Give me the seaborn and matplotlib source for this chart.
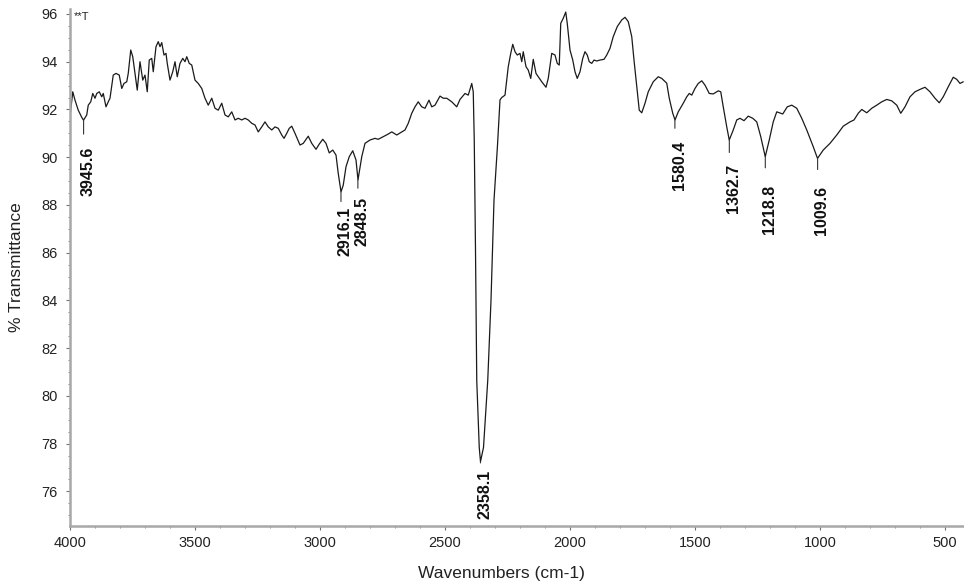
import matplotlib
matplotlib.use("Agg")
import matplotlib.pyplot as plt
from matplotlib.ticker import MultipleLocator
import seaborn as sns
import numpy as np
import pandas as pd

# ---- data ----
wavenumber = [
    4000, 3989, 3980, 3967, 3953, 3946, 3933, 3927, 3917, 3909, 3900, 3893, 3883, 3873, 3867,
    3856, 3847, 3840, 3827, 3816, 3803, 3793, 3784, 3773, 3767, 3757, 3749, 3740, 3731, 3720,
    3709, 3700, 3691, 3683, 3673, 3667, 3656, 3647, 3640, 3633, 3624, 3616, 3611, 3600, 3589,
    3580, 3571, 3560, 3549, 3540, 3533, 3523, 3513, 3500, 3487, 3473, 3460, 3447, 3433, 3420,
    3407, 3393, 3380, 3367, 3353, 3340, 3327, 3313, 3300, 3287, 3273, 3260, 3247, 3233, 3220,
    3207, 3193, 3180, 3167, 3153, 3144, 3133, 3123, 3113, 3100, 3080, 3067, 3047, 3033, 3016,
    3003, 2989, 2976, 2963, 2949, 2936, 2927, 2916, 2907, 2896, 2883, 2869, 2856, 2848, 2833,
    2820, 2800, 2780, 2767, 2747, 2727, 2713, 2693, 2673, 2660, 2647, 2633, 2620, 2607, 2593,
    2580, 2564, 2553, 2540, 2520, 2507, 2493, 2473, 2453, 2440, 2429, 2420, 2407, 2393, 2387,
    2383, 2378, 2373, 2363, 2358, 2346, 2329, 2316, 2304, 2290, 2280, 2273, 2260, 2247, 2237,
    2229, 2220, 2211, 2200, 2193, 2187, 2176, 2167, 2157, 2147, 2136, 2127, 2113, 2096, 2087,
    2073, 2060, 2051, 2043, 2037, 2027, 2017, 2011, 2000, 1989, 1980, 1971, 1960, 1949, 1940,
    1931, 1923, 1913, 1904, 1893, 1880, 1864, 1853, 1840, 1827, 1811, 1793, 1780, 1767, 1753,
    1744, 1733, 1723, 1713, 1700, 1687, 1667, 1647, 1633, 1613, 1603, 1589, 1580, 1567, 1547,
    1533, 1523, 1513, 1500, 1487, 1473, 1460, 1443, 1427, 1407, 1397, 1387, 1373, 1363, 1347,
    1333, 1320, 1304, 1287, 1269, 1253, 1237, 1219, 1203, 1187, 1173, 1149, 1131, 1113, 1093,
    1073, 1053, 1027, 1010, 987, 960, 933, 907, 880, 864, 847, 833, 813, 793, 773,
    753, 733, 713, 693, 677, 660, 640, 620, 600, 580, 560, 540, 523, 507, 487,
    467, 453, 440, 427,
]
transmittance = [
    91.70, 92.74, 92.39, 91.97, 91.67, 91.55, 91.77, 92.18, 92.32, 92.67, 92.47, 92.67, 92.74, 92.53, 92.67,
    92.11, 92.32, 92.47, 93.44, 93.51, 93.44, 92.88, 93.09, 93.16, 93.51, 94.49, 94.21, 93.51, 92.81, 94.00,
    93.23, 93.44, 92.74, 94.07, 94.14, 93.58, 94.63, 94.84, 94.63, 94.80, 94.28, 94.35, 93.93, 93.23, 93.58,
    94.00, 93.37, 93.93, 94.14, 94.00, 94.21, 93.93, 93.86, 93.23, 93.09, 92.88, 92.47, 92.18, 92.47, 92.05,
    91.97, 92.26, 91.77, 91.69, 91.90, 91.56, 91.63, 91.56, 91.63, 91.56, 91.42, 91.35, 91.06, 91.27, 91.48,
    91.27, 91.14, 91.27, 91.21, 90.93, 90.79, 91.00, 91.21, 91.30, 91.00, 90.51, 90.58, 90.88, 90.58, 90.33,
    90.55, 90.75, 90.58, 90.18, 90.30, 90.09, 89.32, 88.55, 88.83, 89.60, 90.02, 90.27, 89.88, 89.05, 90.02,
    90.58, 90.72, 90.79, 90.75, 90.86, 90.97, 91.06, 90.93, 91.06, 91.14, 91.42, 91.84, 92.11, 92.32, 92.11,
    92.05, 92.39, 92.11, 92.18, 92.56, 92.47, 92.47, 92.32, 92.11, 92.42, 92.56, 92.67, 92.60, 93.09, 92.74,
    90.72, 86.10, 80.65, 77.84, 77.25, 77.84, 80.65, 84.01, 88.20, 90.50, 92.40, 92.50, 92.60, 93.79, 94.35,
    94.73, 94.42, 94.28, 94.35, 94.00, 94.42, 93.79, 93.65, 93.30, 94.10, 93.51, 93.37, 93.16, 92.93, 93.30,
    94.35, 94.28, 93.93, 93.86, 95.61, 95.82, 96.08, 95.61, 94.49, 94.07, 93.58, 93.30, 93.58, 94.14, 94.42,
    94.28, 94.00, 93.93, 94.07, 94.03, 94.07, 94.10, 94.28, 94.56, 95.05, 95.47, 95.75, 95.86, 95.68, 95.05,
    94.07, 92.95, 91.97, 91.86, 92.26, 92.74, 93.16, 93.37, 93.30, 93.10, 92.47, 91.84, 91.56, 91.90, 92.26,
    92.53, 92.67, 92.60, 92.88, 93.09, 93.20, 93.02, 92.67, 92.65, 92.78, 92.74, 92.11, 91.27, 90.72, 91.14,
    91.56, 91.63, 91.53, 91.72, 91.63, 91.48, 90.86, 90.02, 90.72, 91.48, 91.90, 91.81, 92.11, 92.18, 92.05,
    91.63, 91.14, 90.44, 89.95, 90.30, 90.58, 90.93, 91.30, 91.48, 91.56, 91.84, 92.00, 91.86, 92.05, 92.18,
    92.32, 92.42, 92.36, 92.18, 91.84, 92.11, 92.53, 92.74, 92.84, 92.93, 92.74, 92.47, 92.28, 92.53, 92.95,
    93.35, 93.26, 93.09, 93.16,
]

peak_labels = ["3945.6", "2916.1", "2848.5", "2358.1", "1580.4", "1362.7", "1218.8", "1009.6"]
peak_positions = [3945.6, 2916.1, 2848.5, 2358.1, 1580.4, 1362.7, 1218.8, 1009.6]
peak_values = [91.55, 88.55, 89.05, 77.25, 91.56, 90.72, 90.02, 89.95]

x_ticks = [4000, 3500, 3000, 2500, 2000, 1500, 1000, 500]
y_ticks = [76, 78, 80, 82, 84, 86, 88, 90, 92, 94, 96]

# ---- layout / style ----
leader_len_pts = [10, 7, 6, 1, 6, 9, 8, 8]     # leader line below each peak (points)
label_gap_pts = [19, 11, 12, 6, 15, 17, 20, 20]  # distance peak -> label top (points)

df = pd.DataFrame({"Wavenumber": wavenumber, "T": transmittance})

sns.set_theme(style="white")
plt.rcParams["font.family"] = ["Liberation Sans", "DejaVu Sans"]

fig = plt.figure(figsize=(9.64, 5.83), dpi=100)
ax = fig.add_axes([70 / 964, 57 / 583, 894 / 964, (526 - 9.2) / 583])

sns.lineplot(data=df, x="Wavenumber", y="T", ax=ax, color="#1a1a1a",
             linewidth=0.9, estimator=None, sort=False)

ax.set_xlim(4000, 424)
ax.set_ylim(74.55, 96.2)

for s in ["top", "right"]:
    ax.spines[s].set_visible(False)
for s in ["left", "bottom"]:
    ax.spines[s].set_color("#a8a8a8")
    ax.spines[s].set_linewidth(1.8)

ax.set_xticks(x_ticks)
ax.set_yticks(y_ticks)
ax.xaxis.set_minor_locator(MultipleLocator(100))
ax.yaxis.set_minor_locator(MultipleLocator(0.5))
ax.tick_params(which="major", direction="out", length=3, width=0.8, color="#707070",
               labelsize=10.5, pad=4, labelcolor="#222222", bottom=True, left=True)
ax.tick_params(which="minor", direction="out", length=1.5, width=0.6, color="#707070",
               bottom=True, left=True)
ax.tick_params(axis="y", pad=6)

ax.set_xlabel("Wavenumbers (cm-1)", fontsize=12.5, color="#222222")
ax.set_ylabel("% Transmittance", fontsize=12.5, color="#222222")
ax.xaxis.set_label_coords(0.483, -0.077)
ax.yaxis.set_label_coords(-0.052, 0.5)

# leader lines and rotated peak labels
for lab, px, pv, ll, lg in zip(peak_labels, peak_positions, peak_values,
                               leader_len_pts, label_gap_pts):
    ax.annotate("", xy=(px, pv), xytext=(0, -ll), textcoords="offset points",
                arrowprops=dict(arrowstyle="-", color="#333333", lw=0.8,
                                shrinkA=0, shrinkB=0))
    ax.annotate(lab, xy=(px, pv), xytext=(3, -lg), textcoords="offset points",
                rotation=90, ha="center", va="top", fontsize=11.5,
                fontweight="bold", color="#111111")

ax.text(0.004, 0.995, "**T", transform=ax.transAxes, fontsize=8,
        ha="left", va="top", color="#222222")

fig.savefig("out.png", dpi=100, facecolor="white")
